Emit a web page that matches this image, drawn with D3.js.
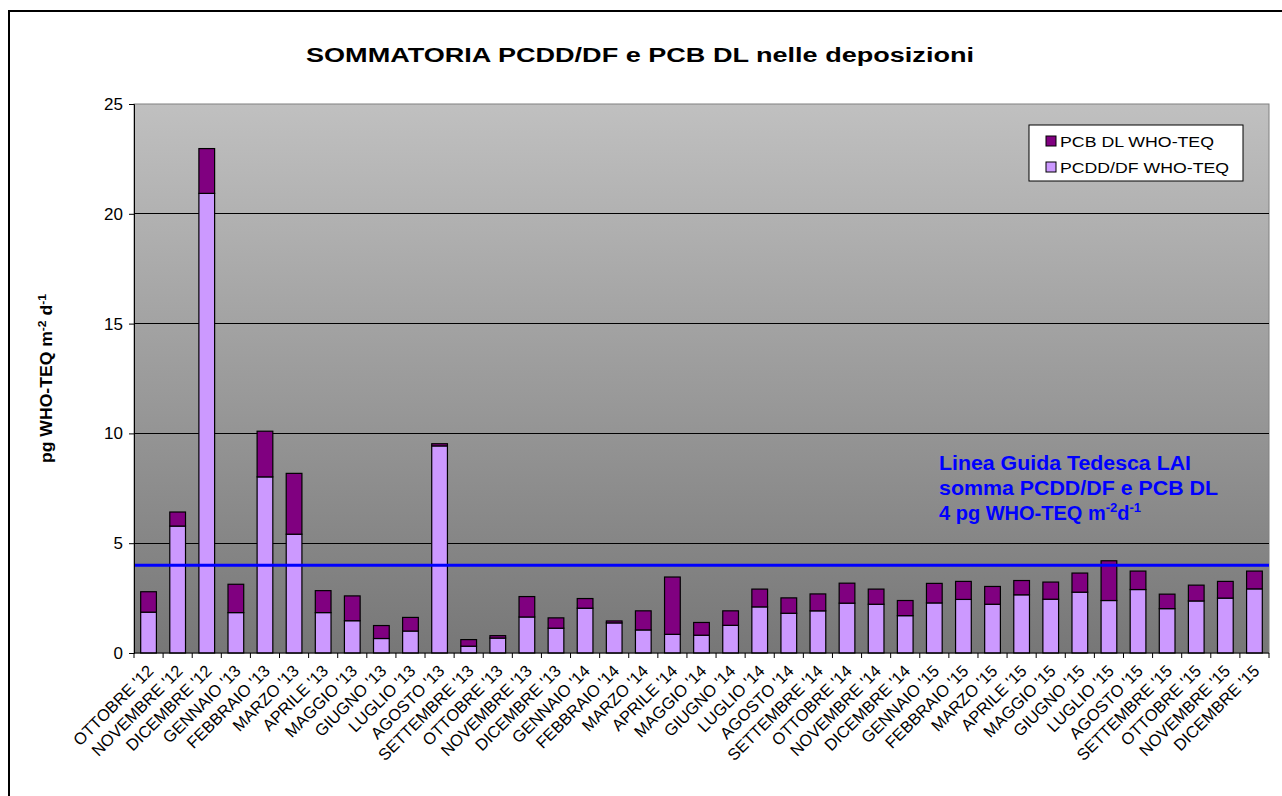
<!DOCTYPE html>
<html>
<head>
<meta charset="utf-8">
<script src="https://cdn.jsdelivr.net/npm/d3@7"></script>
<style>
  html, body { margin: 0; padding: 0; background: #fff; }
  svg { display: block; font-family: Arial, "Liberation Sans", sans-serif; }
</style>
</head>
<body>
<svg id="chart" width="1282" height="796"></svg>
<script>
// Monthly deposition samples, Oct 2012 – Dec 2015
const months = [
  "OTTOBRE '12", "NOVEMBRE '12", "DICEMBRE '12",
  "GENNAIO '13", "FEBBRAIO '13", "MARZO '13", "APRILE '13", "MAGGIO '13", "GIUGNO '13",
  "LUGLIO '13", "AGOSTO '13", "SETTEMBRE '13", "OTTOBRE '13", "NOVEMBRE '13", "DICEMBRE '13",
  "GENNAIO '14", "FEBBRAIO '14", "MARZO '14", "APRILE '14", "MAGGIO '14", "GIUGNO '14",
  "LUGLIO '14", "AGOSTO '14", "SETTEMBRE '14", "OTTOBRE '14", "NOVEMBRE '14", "DICEMBRE '14",
  "GENNAIO '15", "FEBBRAIO '15", "MARZO '15", "APRILE '15", "MAGGIO '15", "GIUGNO '15",
  "LUGLIO '15", "AGOSTO '15", "SETTEMBRE '15", "OTTOBRE '15", "NOVEMBRE '15", "DICEMBRE '15"
];

// PCDD/DF WHO-TEQ (pg m-2 d-1)
const pcddValues = [
  1.86, 5.78, 20.93,
  1.84, 8.02, 5.41, 1.84, 1.47, 0.66,
  1.00, 9.43, 0.31, 0.68, 1.64, 1.13,
  2.04, 1.37, 1.05, 0.85, 0.81, 1.26,
  2.10, 1.81, 1.92, 2.27, 2.22, 1.70,
  2.28, 2.44, 2.22, 2.65, 2.45, 2.77,
  2.39, 2.89, 2.02, 2.37, 2.50, 2.92
];

// PCB DL WHO-TEQ (pg m-2 d-1)
const pcbValues = [
  0.93, 0.64, 2.04,
  1.29, 2.08, 2.77, 1.00, 1.13, 0.59,
  0.62, 0.10, 0.30, 0.11, 0.93, 0.47,
  0.44, 0.09, 0.87, 2.61, 0.58, 0.66,
  0.81, 0.70, 0.77, 0.91, 0.69, 0.69,
  0.89, 0.82, 0.81, 0.65, 0.78, 0.87,
  1.81, 0.84, 0.66, 0.72, 0.76, 0.81
];

const yTicks = [0, 5, 10, 15, 20, 25];
const guideValue = 4;

const seriesNames = ["PCDD/DF WHO-TEQ", "PCB DL WHO-TEQ"];
const seriesColors = { "PCDD/DF WHO-TEQ": "#cc99ff", "PCB DL WHO-TEQ": "#800080" };

const rows = months.map((m, i) => ({
  month: m,
  "PCDD/DF WHO-TEQ": pcddValues[i],
  "PCB DL WHO-TEQ": pcbValues[i]
}));

const svg = d3.select("#chart");
const plot = { left: 134, right: 1269, top: 104, bottom: 653 };

// Outer chart frame
svg.append("rect")
  .attr("x", 9).attr("y", 11)
  .attr("width", 1290).attr("height", 800)
  .attr("fill", "#fff").attr("stroke", "#000").attr("stroke-width", 2);

// Plot background gradient
const defs = svg.append("defs");
const grad = defs.append("linearGradient")
  .attr("id", "plotBg").attr("x1", 0).attr("y1", 0).attr("x2", 0).attr("y2", 1);
grad.append("stop").attr("offset", "0%").attr("stop-color", "#c0c0c0");
grad.append("stop").attr("offset", "100%").attr("stop-color", "#777777");

svg.append("rect")
  .attr("x", plot.left).attr("y", plot.top)
  .attr("width", plot.right - plot.left).attr("height", plot.bottom - plot.top)
  .attr("fill", "url(#plotBg)")
  .attr("stroke", "#808080").attr("stroke-width", 1);

const x = d3.scaleBand().domain(months).range([plot.left, plot.right]).paddingInner(0.46).paddingOuter(0.23);
const y = d3.scaleLinear().domain([0, 25]).range([plot.bottom, plot.top]);

// Gridlines
svg.append("g")
  .selectAll("line")
  .data(yTicks.filter(t => t > 0 && t < 25))
  .join("line")
  .attr("x1", plot.left).attr("x2", plot.right)
  .attr("y1", d => y(d)).attr("y2", d => y(d))
  .attr("stroke", "#000").attr("stroke-width", 1).attr("shape-rendering", "crispEdges");

// Stacked bars
const stack = d3.stack().keys(seriesNames);
const layers = stack(rows);
svg.append("g")
  .selectAll("g")
  .data(layers)
  .join("g")
  .attr("fill", d => seriesColors[d.key])
  .selectAll("rect")
  .data(d => d)
  .join("rect")
  .attr("x", d => x(d.data.month))
  .attr("width", x.bandwidth())
  .attr("y", d => y(d[1]))
  .attr("height", d => y(d[0]) - y(d[1]))
  .attr("stroke", "#000").attr("stroke-width", 1.2);

// Guideline value line
svg.append("line")
  .attr("x1", plot.left).attr("x2", plot.right)
  .attr("y1", y(guideValue)).attr("y2", y(guideValue))
  .attr("stroke", "#0000ff").attr("stroke-width", 3);

// Y axis
const yAxis = d3.axisLeft(y).tickValues(yTicks).tickSize(5).tickPadding(6).tickFormat(d3.format("d"));
const yg = svg.append("g").attr("transform", `translate(${plot.left},0)`).call(yAxis);
yg.select(".domain").attr("stroke", "#000");
yg.selectAll(".tick line").attr("stroke", "#000");
yg.selectAll(".tick text").attr("font-size", 17).attr("fill", "#000")
  .attr("font-family", "Arial, 'Liberation Sans', sans-serif");

// X axis with category separators
const xAxisG = svg.append("g").attr("transform", `translate(0,${plot.bottom})`);
xAxisG.append("line")
  .attr("x1", plot.left).attr("x2", plot.right).attr("y1", 0).attr("y2", 0)
  .attr("stroke", "#000");
const boundaries = d3.range(months.length + 1).map(i => plot.left + i * (plot.right - plot.left) / months.length);
xAxisG.selectAll("line.sep")
  .data(boundaries)
  .join("line")
  .attr("class", "sep")
  .attr("x1", d => d).attr("x2", d => d)
  .attr("y1", 0).attr("y2", 5)
  .attr("stroke", "#000");

xAxisG.selectAll("text")
  .data(months)
  .join("text")
  .attr("transform", d => `translate(${x(d) + x.bandwidth() / 2 + 6},${19}) rotate(-45)`)
  .attr("text-anchor", "end")
  .attr("font-size", 16.5)
  .attr("fill", "#000")
  .text(d => d);

// Title
svg.append("text")
  .attr("x", 640).attr("y", 62)
  .attr("text-anchor", "middle")
  .attr("font-size", 20).attr("font-weight", "bold")
  .attr("textLength", 668).attr("lengthAdjust", "spacingAndGlyphs")
  .text("SOMMATORIA PCDD/DF e PCB DL nelle deposizioni");

// Y axis title
const yTitle = svg.append("text")
  .attr("transform", `translate(52,${(plot.top + plot.bottom) / 2}) rotate(-90) scale(1.1,1)`)
  .attr("text-anchor", "middle")
  .attr("font-size", 16).attr("font-weight", "bold");
yTitle.append("tspan").text("pg WHO-TEQ m");
yTitle.append("tspan").attr("dy", -6).attr("font-size", 11).text("-2");
yTitle.append("tspan").attr("dy", 6).text(" d");
yTitle.append("tspan").attr("dy", -6).attr("font-size", 11).text("-1");

// Guideline annotation
const note = svg.append("g").attr("fill", "#0000ff").attr("font-weight", "bold").attr("font-size", 20);
note.append("text").attr("x", 939).attr("y", 470)
  .attr("textLength", 252).attr("lengthAdjust", "spacingAndGlyphs")
  .text("Linea Guida Tedesca LAI");
note.append("text").attr("x", 939).attr("y", 495)
  .attr("textLength", 279).attr("lengthAdjust", "spacingAndGlyphs")
  .text("somma PCDD/DF e PCB DL");
const l3 = note.append("text").attr("x", 939).attr("y", 520);
l3.append("tspan").text("4 pg WHO-TEQ m");
l3.append("tspan").attr("dy", -8).attr("font-size", 13).text("-2");
l3.append("tspan").attr("dy", 8).text("d");
l3.append("tspan").attr("dy", -8).attr("font-size", 13).text("-1");

// Legend
const legend = svg.append("g").attr("transform", "translate(1029,125)");
legend.append("rect").attr("width", 214).attr("height", 56)
  .attr("fill", "#fff").attr("stroke", "#000").attr("stroke-width", 1);
const legendItems = [
  { name: "PCB DL WHO-TEQ", len: 154 },
  { name: "PCDD/DF WHO-TEQ", len: 169 }
];
legendItems.forEach((item, i) => {
  const gy = 16 + i * 26;
  legend.append("rect").attr("x", 17).attr("y", gy - 5).attr("width", 10).attr("height", 10)
    .attr("fill", seriesColors[item.name]).attr("stroke", "#000").attr("stroke-width", 1);
  legend.append("text").attr("x", 31).attr("y", gy + 6)
    .attr("font-size", 15)
    .attr("textLength", item.len).attr("lengthAdjust", "spacingAndGlyphs")
    .text(item.name);
});
</script>
</body>
</html>
